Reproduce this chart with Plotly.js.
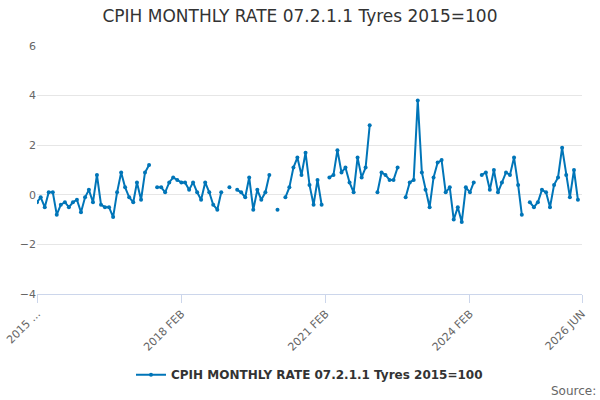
<!DOCTYPE html>
<html>
<head>
<meta charset="utf-8">
<script src="https://cdn.plot.ly/plotly-3.0.1.min.js"></script>
<style>body{margin:0}</style>
</head>
<body>
<div id="chart" style="width:600px;height:400px"></div>
<script>
// monthly values from 2015 FEB to 2026 MAY, null = missing
var values = [
  -0.3, -0.1, -0.5, 0.1, 0.1, -0.8, -0.4, -0.3, -0.5, -0.3, -0.2, -0.7,
  -0.1, 0.2, -0.3, 0.8, -0.4, -0.5, -0.5, -0.9, 0.1, 0.9, 0.3, -0.1,
  -0.3, 0.5, -0.2, 0.9, 1.2, null, 0.3, 0.3, 0.1, 0.5, 0.7, 0.6,
  0.5, 0.5, 0.2, 0.5, 0.1, -0.2, 0.5, 0.1, -0.4, -0.6, 0.1, null,
  0.3, null, 0.2, 0.1, -0.1, 0.7, -0.6, 0.2, -0.2, 0.1, 0.8, null,
  -0.6, null, -0.1, 0.3, 1.1, 1.5, 0.8, 1.7, 0.4, -0.4, 0.6, -0.4,
  null, 0.7, 0.8, 1.8, 0.9, 1.1, 0.5, 0.1, 1.5, 0.7, 1.1, 2.8,
  null, 0.1, 0.9, 0.8, 0.6, 0.6, 1.1, null, -0.1, 0.5, 0.6, 3.8,
  0.9, 0.2, -0.5, 0.7, 1.3, 1.4, 0.1, 0.3, -1.0, -0.5, -1.1, 0.3,
  0.1, 0.5, null, 0.8, 0.9, 0.2, 1.0, 0.1, 0.5, 0.9, 0.8, 1.5,
  0.4, -0.8, null, -0.3, -0.5, -0.3, 0.2, 0.1, -0.5, 0.4, 0.7, 1.9,
  0.8, -0.1, 1.0, -0.2
];
var tickVals = ["2015-02-01", "2018-02-01", "2021-02-01", "2024-02-01", "2026-06-01"];
var tickText = ["2015 ...", "2018 FEB", "2021 FEB", "2024 FEB", "2026 JUN"];

var months = [];
for (var i = 0; i < values.length; i++) {
  var y = 2015 + Math.floor((1 + i) / 12);
  var m = (1 + i) % 12 + 1;
  months.push(y + "-" + (m < 10 ? "0" + m : m) + "-01");
}

var data = [{
  type: "scatter",
  mode: "lines+markers",
  x: months,
  y: values,
  name: "<b>CPIH MONTHLY RATE 07.2.1.1 Tyres 2015=100</b>",
  line: { color: "#0075b8", width: 2 },
  marker: { color: "#0075b8", size: 4 },
  connectgaps: false
}];

var layout = {
  width: 600,
  height: 400,
  margin: { t: 46, r: 18, l: 37, b: 105 },
  paper_bgcolor: "white",
  plot_bgcolor: "white",
  font: { family: "DejaVu Sans", color: "#555" },
  title: { text: "CPIH MONTHLY RATE 07.2.1.1 Tyres 2015=100", font: { size: 17, color: "#333" }, x: 0.5, y: 0.975, yanchor: "top" },
  xaxis: {
    type: "date",
    automargin: false,
    range: ["2015-02-01", "2026-06-01"],
    tickvals: tickVals,
    ticktext: tickText,
    tickangle: -45,
    showgrid: false,
    showline: true,
    linecolor: "#ccd6eb",
    ticks: "outside",
    tickcolor: "#ccd6eb",
    ticklen: 8,
    tickfont: { size: 11, color: "#666" }
  },
  yaxis: {
    automargin: false,
    range: [-4, 6],
    dtick: 2,
    gridcolor: "#e6e6e6",
    zeroline: false,
    tickfont: { size: 11, color: "#666" }
  },
  showlegend: true,
  legend: { orientation: "h", x: 0.5, xanchor: "center", y: -0.32, yanchor: "middle", font: { size: 12, color: "#333" } },
  annotations: [{
    text: "Source:", xref: "paper", yref: "paper", x: 1.03, y: -0.39,
    xanchor: "right", yanchor: "middle", showarrow: false, font: { size: 12, color: "#666" }
  }]
};
Plotly.newPlot("chart", data, layout, { displayModeBar: false });
</script>
</body>
</html>
